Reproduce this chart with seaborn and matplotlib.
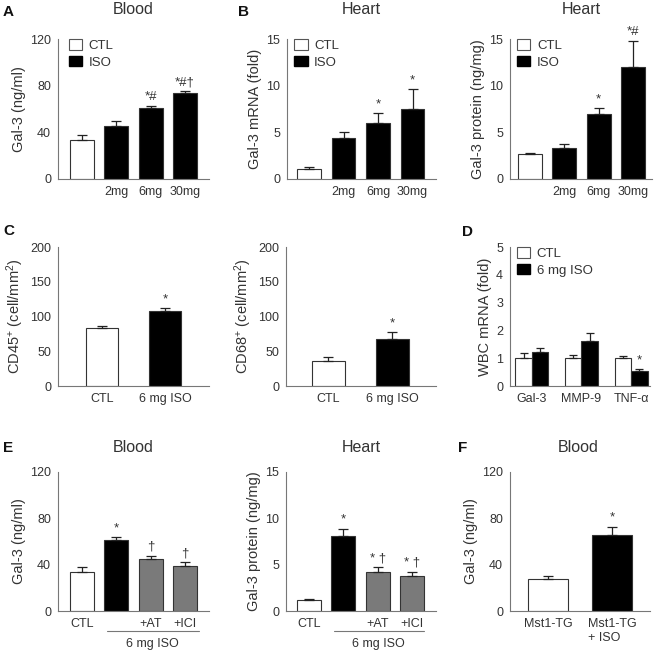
import numpy as np
import pandas as pd
import matplotlib
matplotlib.use("Agg")
import matplotlib.pyplot as plt
from matplotlib.patches import Patch
import seaborn as sns

# values (mean, sem)
dose_groups = ['CTL', '2mg', '6mg', '30mg']
dose_ticks = ['', '2mg', '6mg', '30mg']
blood_gal3 = [33.5, 45.7, 60.5, 74.0]
blood_gal3_sem = [4.3, 4.3, 2.4, 1.1]
blood_gal3_marks = ['', '', '*#', '*#†']

heart_mrna = [1.04, 4.35, 5.95, 7.45]
heart_mrna_sem = [0.2, 0.72, 1.15, 2.15]
heart_mrna_marks = ['', '', '*', '*']

heart_protein = [2.68, 3.36, 6.93, 12.05]
heart_protein_sem = [0.12, 0.4, 0.65, 2.75]
heart_protein_marks = ['', '', '*', '*#']

cd_groups = ['CTL', '6 mg ISO']
cd45 = [83.5, 107.5]
cd45_sem = [3.0, 4.3]
cd68 = [36.0, 67.0]
cd68_sem = [6.0, 10.5]
cd_marks = ['', '*']

wbc_genes = ['Gal-3', 'MMP-9', 'TNF-α']
wbc_ctl = [1.0, 1.0, 1.0]
wbc_ctl_sem = [0.19, 0.12, 0.08]
wbc_iso = [1.23, 1.61, 0.53]
wbc_iso_sem = [0.14, 0.28, 0.08]
wbc_iso_marks = ['', '', '*']

block_groups = ['CTL', 'ISO', '+AT', '+ICI']
block_ticks = ['CTL', '', '+AT', '+ICI']
block_blood = [33.8, 61.0, 45.1, 39.0]
block_blood_sem = [4.1, 2.6, 2.6, 2.9]
block_blood_marks = ['', '*', '†', '†']
block_heart = [1.23, 8.1, 4.26, 3.8]
block_heart_sem = [0.11, 0.8, 0.47, 0.46]
block_heart_marks = ['', '*', '* †', '* †']

tg_groups = ['Mst1-TG', 'Mst1-TG\n+ ISO']
tg_blood = [27.2, 65.4]
tg_blood_sem = [2.8, 7.5]
tg_marks = ['', '*']

WHITE, BLACK, GRAY = 'white', 'black', '#7a7a7a'
TXT = '#333333'
SPINE = '#777777'
TICK_FS = 9
LABEL_FS = 10.5
MARK_FS = 9.5

sns.set_style('white')
plt.rcParams['font.family'] = ['Liberation Sans', 'DejaVu Sans']
plt.rcParams['mathtext.default'] = 'regular'
plt.rcParams['text.color'] = TXT
plt.rcParams['axes.labelcolor'] = TXT
plt.rcParams['xtick.color'] = TXT
plt.rcParams['ytick.color'] = TXT

W, H = 660, 654
fig = plt.figure(figsize=(6.6, 6.54), dpi=100)


def make_ax(x0, x1, y0, y1):
    # pixel box -> figure fraction
    return fig.add_axes([x0 / W, 1 - y1 / H, (x1 - x0) / W, (y1 - y0) / H])


def style(ax, ylim, yticks, ylabel, xlim, xticks=None):
    sns.despine(ax=ax)
    ax.set_ylim(*ylim)
    ax.set_yticks(yticks)
    ax.set_xlim(*xlim)
    ax.set_ylabel(ylabel, fontsize=LABEL_FS, labelpad=3)
    ax.set_xlabel('')
    if xticks is not None:
        ax.set_xticks(range(len(xticks)))
        ax.set_xticklabels(xticks)
    ax.tick_params(axis='y', length=3, width=0.8, color=SPINE, labelsize=TICK_FS, pad=2)
    ax.tick_params(axis='x', length=0, labelsize=TICK_FS, pad=5)
    for s in ['left', 'bottom']:
        ax.spines[s].set_color(SPINE)
        ax.spines[s].set_linewidth(0.8)


def bars(ax, groups, vals, sems, colors, marks, width):
    sns.barplot(x=groups, y=vals, hue=groups, palette=colors, legend=False,
                width=width, edgecolor='#333333', linewidth=0.8,
                errorbar=None, ax=ax)
    xs = np.arange(len(vals))
    ax.errorbar(xs, vals, yerr=[np.zeros(len(vals)), sems], fmt='none',
                ecolor='#222222', elinewidth=0.9, capsize=3.5, capthick=0.9, zorder=1)
    for x, v, s, m in zip(xs, vals, sems, marks):
        if m:
            ax.annotate(m, (x, v + s), xytext=(0, 2), textcoords='offset points',
                        ha='center', va='bottom', fontsize=MARK_FS)


def legend(ax, labels, anchor):
    handles = [Patch(facecolor=WHITE, edgecolor='#555555', linewidth=0.8, label=labels[0]),
               Patch(facecolor=BLACK, edgecolor=BLACK, label=labels[1])]
    ax.legend(handles=handles, loc='upper left', bbox_to_anchor=anchor, frameon=False,
              fontsize=9.5, handlelength=1.0, handleheight=0.85, handletextpad=0.5,
              labelspacing=0.3, borderaxespad=0, borderpad=0)


def under_line(ax, x0, x1, label):
    tr = ax.get_xaxis_transform()
    ax.plot([x0, x1], [-0.145, -0.145], color=SPINE, lw=0.8, transform=tr, clip_on=False)
    ax.text((x0 + x1) / 2, -0.235, label, transform=tr, ha='center', va='center',
            fontsize=TICK_FS)


dose_colors = [WHITE, BLACK, BLACK, BLACK]
block_colors = [WHITE, BLACK, GRAY, GRAY]

# row 1
ax = make_ax(58, 209, 39, 179)
bars(ax, dose_groups, blood_gal3, blood_gal3_sem, dose_colors, blood_gal3_marks, 0.7)
style(ax, (0, 120), [0, 40, 80, 120], 'Gal-3 (ng/ml)', (-0.7, 3.7), dose_ticks)
legend(ax, ['CTL', 'ISO'], (0.07, 1.0))

ax = make_ax(287, 436, 39, 179)
bars(ax, dose_groups, heart_mrna, heart_mrna_sem, dose_colors, heart_mrna_marks, 0.68)
style(ax, (0, 15), [0, 5, 10, 15], 'Gal-3 mRNA (fold)', (-0.64, 3.68), dose_ticks)
legend(ax, ['CTL', 'ISO'], (0.05, 1.0))

ax = make_ax(510, 652, 39, 179)
bars(ax, dose_groups, heart_protein, heart_protein_sem, dose_colors, heart_protein_marks, 0.7)
style(ax, (0, 15), [0, 5, 10, 15], 'Gal-3 protein (ng/mg)', (-0.58, 3.55), dose_ticks)
legend(ax, ['CTL', 'ISO'], (0.05, 1.0))

# row 2
ax = make_ax(58, 209, 247, 386)
bars(ax, cd_groups, cd45, cd45_sem, [WHITE, BLACK], cd_marks, 0.5)
style(ax, (0, 200), [0, 50, 100, 150, 200], 'CD45$^{+}$ (cell/mm$^{2}$)', (-0.69, 1.69), cd_groups)

ax = make_ax(286, 436, 247, 386)
bars(ax, cd_groups, cd68, cd68_sem, [WHITE, BLACK], cd_marks, 0.52)
style(ax, (0, 200), [0, 50, 100, 150, 200], 'CD68$^{+}$ (cell/mm$^{2}$)', (-0.66, 1.68), cd_groups)

ax = make_ax(510, 650, 247, 386)
wbc = pd.DataFrame({
    'gene': wbc_genes * 2,
    'group': ['CTL'] * 3 + ['6 mg ISO'] * 3,
    'value': wbc_ctl + wbc_iso,
})
sns.barplot(data=wbc, x='gene', y='value', hue='group',
            palette={'CTL': WHITE, '6 mg ISO': BLACK}, width=0.67, gap=0,
            edgecolor='#333333', linewidth=0.8, errorbar=None, legend=False, ax=ax)
for cont, sems, marks in zip(ax.containers, [wbc_ctl_sem, wbc_iso_sem],
                             [['', '', ''], wbc_iso_marks]):
    xs = [p.get_x() + p.get_width() / 2 for p in cont]
    hs = [p.get_height() for p in cont]
    ax.errorbar(xs, hs, yerr=[np.zeros(len(hs)), sems], fmt='none', ecolor='#222222',
                elinewidth=0.9, capsize=3, capthick=0.9, zorder=1)
    for x, v, s, m in zip(xs, hs, sems, marks):
        if m:
            ax.annotate(m, (x, v + s), xytext=(0, 2), textcoords='offset points',
                        ha='center', va='bottom', fontsize=MARK_FS)
style(ax, (0, 5), [0, 1, 2, 3, 4, 5], 'WBC mRNA (fold)', (-0.44, 2.38))
legend(ax, ['CTL', '6 mg ISO'], (0.05, 1.0))

# row 3
ax = make_ax(58, 209, 472, 611)
bars(ax, block_groups, block_blood, block_blood_sem, block_colors, block_blood_marks, 0.7)
style(ax, (0, 120), [0, 40, 80, 120], 'Gal-3 (ng/ml)', (-0.7, 3.7), block_ticks)
under_line(ax, 0.72, 3.4, '6 mg ISO')

ax = make_ax(286, 436, 472, 611)
bars(ax, block_groups, block_heart, block_heart_sem, block_colors, block_heart_marks, 0.7)
style(ax, (0, 15), [0, 5, 10, 15], 'Gal-3 protein (ng/mg)', (-0.67, 3.7), block_ticks)
under_line(ax, 0.72, 3.34, '6 mg ISO')

ax = make_ax(510, 650, 472, 611)
bars(ax, tg_groups, tg_blood, tg_blood_sem, [WHITE, BLACK], tg_marks, 0.62)
style(ax, (0, 120), [0, 40, 80, 120], 'Gal-3 (ng/ml)', (-0.6, 1.6), tg_groups)
for lab in ax.get_xticklabels():
    lab.set_multialignment('left')

# panel letters and titles
for letter, px, py in [('A', 3, 12), ('B', 238, 12), ('C', 3, 231),
                       ('D', 462, 232), ('E', 3, 448), ('F', 458, 448)]:
    fig.text(px / W, 1 - py / H, letter, fontsize=11, fontweight='bold',
             color='#111111', va='center', ha='left')

for title, px, py in [('Blood', 133.5, 10), ('Heart', 361.5, 10), ('Heart', 581, 10),
                      ('Blood', 133.5, 448), ('Heart', 361, 448), ('Blood', 578, 448)]:
    fig.text(px / W, 1 - py / H, title, fontsize=11.5, va='center', ha='center')

fig.savefig('out.png', dpi=100)
